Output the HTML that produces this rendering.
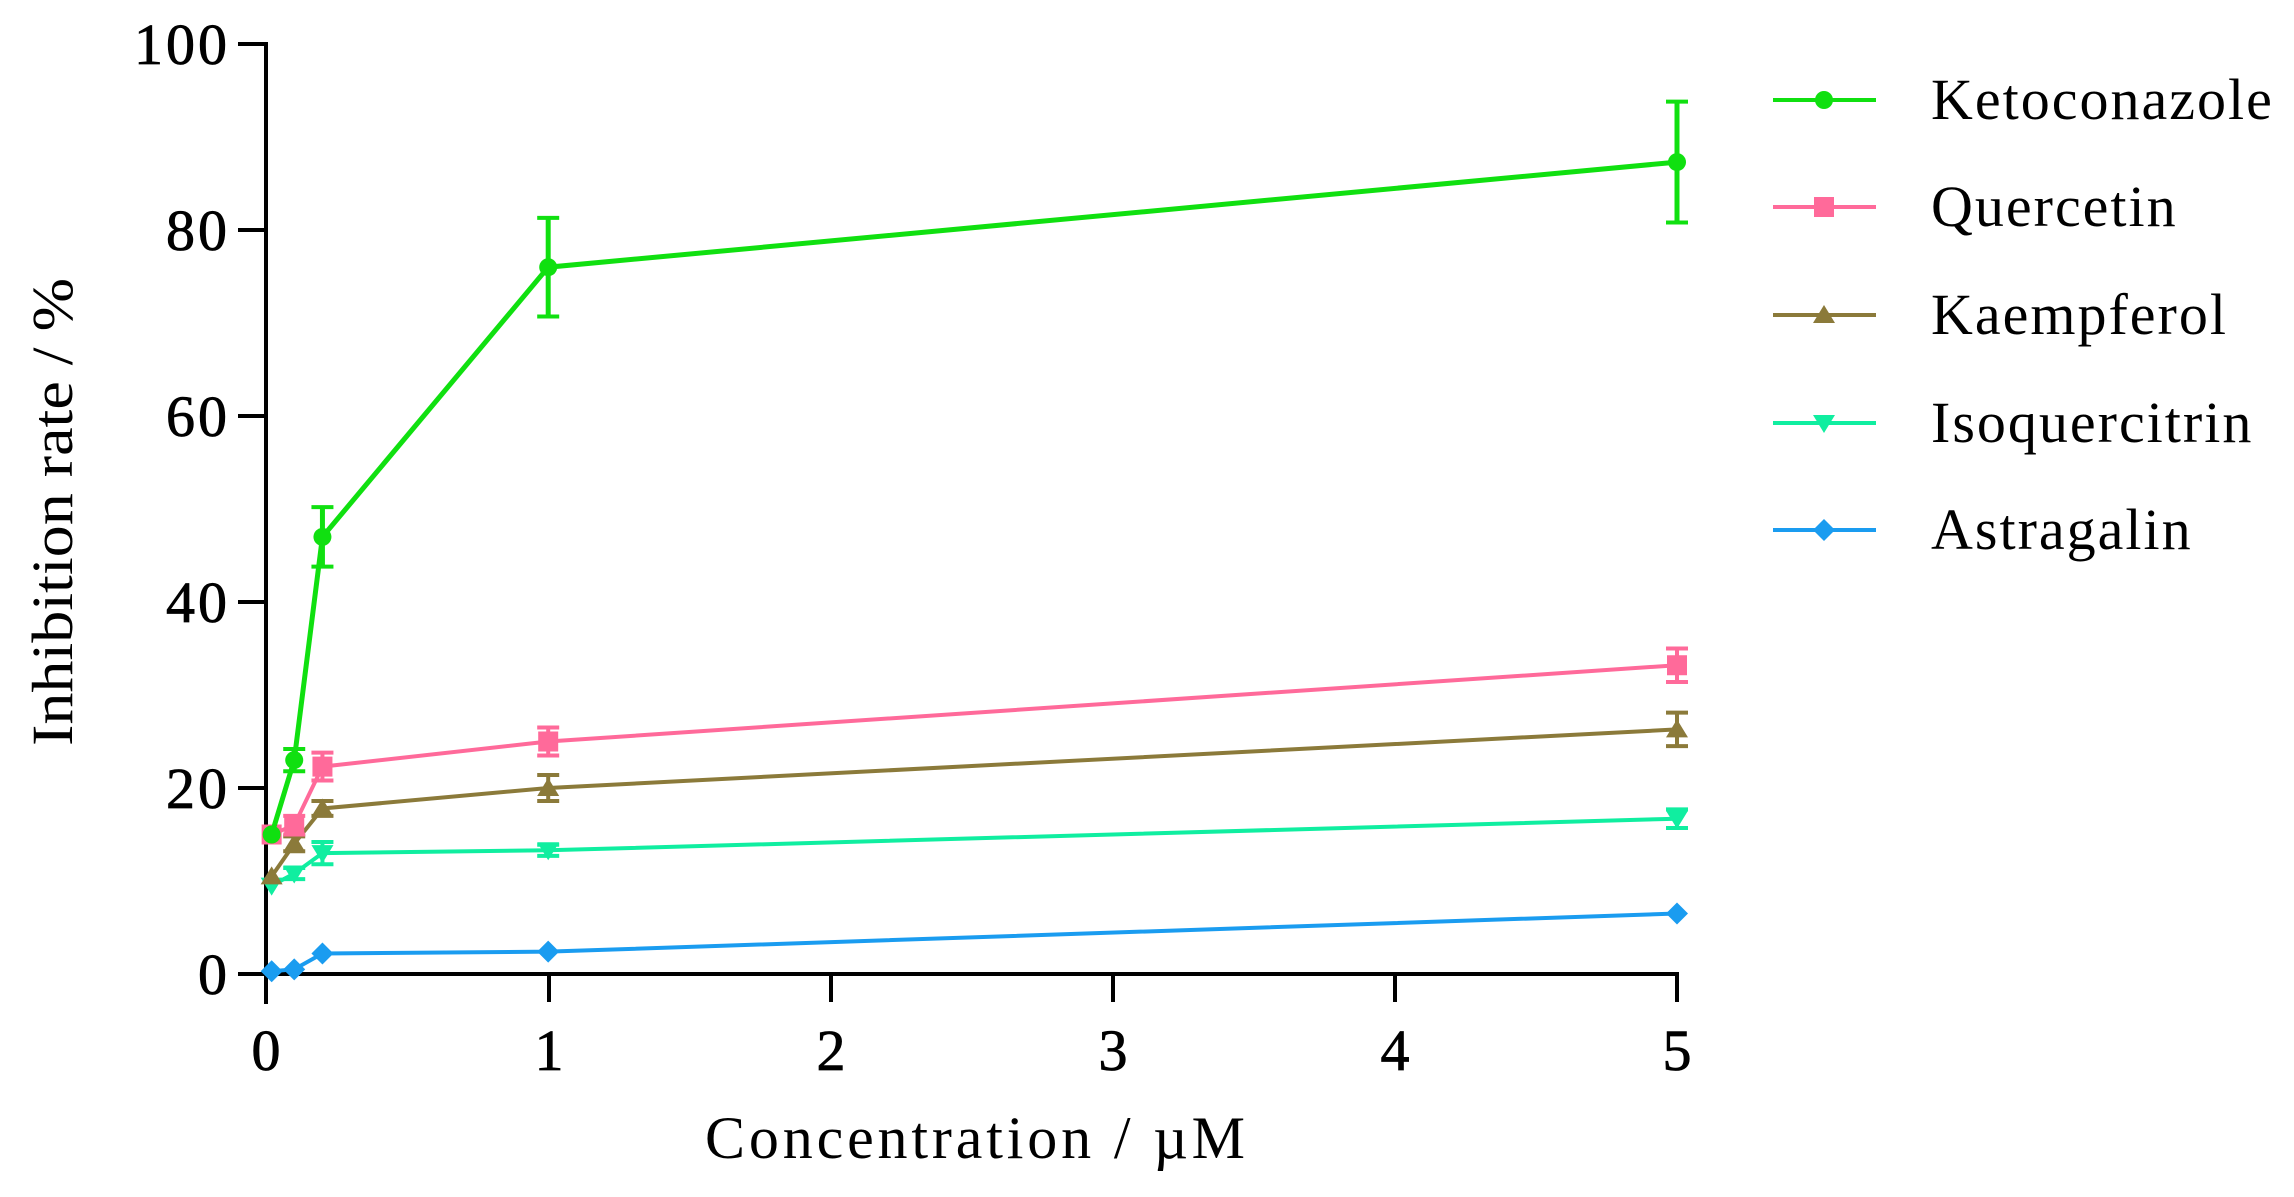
<!DOCTYPE html>
<html><head><meta charset="utf-8"><style>
html,body{margin:0;padding:0;background:#fff;}
svg{display:block;font-family:"Liberation Serif",serif;}
</style></head><body>
<svg id="s" width="2294" height="1197" xmlns="http://www.w3.org/2000/svg">
<g stroke="#000" stroke-width="4" fill="none">
<line x1="266" y1="42" x2="266" y2="1004"/>
<line x1="264" y1="974" x2="1679" y2="974"/>
<line x1="238" y1="44" x2="266" y2="44"/>
<line x1="238" y1="230" x2="266" y2="230"/>
<line x1="238" y1="416" x2="266" y2="416"/>
<line x1="238" y1="602" x2="266" y2="602"/>
<line x1="238" y1="788" x2="266" y2="788"/>
<line x1="238" y1="974" x2="266" y2="974"/>
<line x1="549" y1="974" x2="549" y2="1002"/>
<line x1="831" y1="974" x2="831" y2="1002"/>
<line x1="1113" y1="974" x2="1113" y2="1002"/>
<line x1="1395" y1="974" x2="1395" y2="1002"/>
<line x1="1677" y1="974" x2="1677" y2="1002"/>
</g>
<g font-size="58" text-anchor="end" letter-spacing="3" stroke="#000" stroke-width="0.8">
<text x="230" y="64">100</text>
<text x="230" y="250">80</text>
<text x="230" y="436">60</text>
<text x="230" y="622">40</text>
<text x="230" y="808">20</text>
<text x="230" y="994">0</text>
</g>
<g font-size="58" text-anchor="middle" stroke="#000" stroke-width="0.8">
<text x="266" y="1070">0</text>
<text x="549" y="1070">1</text>
<text x="831" y="1070">2</text>
<text x="1113" y="1070">3</text>
<text x="1395" y="1070">4</text>
<text x="1677" y="1070">5</text>
</g>
<text x="705" y="1158" font-size="60" textLength="540" lengthAdjust="spacing">Concentration /  µM</text>
<text transform="translate(72,746) rotate(-90)" font-size="58" textLength="468" lengthAdjust="spacingAndGlyphs">Inhibition rate / %</text>
<g id="series"></g>
<g id="legend" font-size="58" letter-spacing="2"></g>
</svg>
<script>
const X=v=>266+v*282.2, Y=v=>974-v*9.3;
const xs=[0.02,0.1,0.2,1,5];
const S=[
["Ketoconazole","#10e010","c",[15,23,47,76,87.3],[0,1.2,3.2,5.3,6.5],5],
["Quercetin","#ff6a9a","s",[15,16,22.3,25,33.2],[0,1,1.5,1.5,1.8],4],
["Kaempferol","#8b7a3a","t",[10.5,14,17.8,20,26.3],[0,0.8,0.8,1.4,1.8],4],
["Isoquercitrin","#10eea0","v",[9.5,10.8,13,13.3,16.7],[0,0.6,1.2,0.6,1],4],
["Astragalin","#1a9cf0","d",[0.3,0.5,2.2,2.4,6.5],[0,0,0,0,0],4]
];
const ns="http://www.w3.org/2000/svg";
const g=document.getElementById("series"),L=document.getElementById("legend");
function el(p,t,a){const e=document.createElementNS(ns,t);for(const k in a)e.setAttribute(k,a[k]);p.appendChild(e);return e;}
function mk(p,type,x,y,c){
 if(type=="c")el(p,"circle",{cx:x,cy:y,r:9,fill:c});
 else if(type=="s")el(p,"rect",{x:x-10,y:y-10,width:20,height:20,fill:c});
 else if(type=="t")el(p,"polygon",{points:`${x},${y-10} ${x-11},${y+8} ${x+11},${y+8}`,fill:c});
 else if(type=="v")el(p,"polygon",{points:`${x},${y+10} ${x-11},${y-8} ${x+11},${y-8}`,fill:c});
 else el(p,"polygon",{points:`${x},${y-11} ${x+11},${y} ${x},${y+11} ${x-11},${y}`,fill:c});
}
S.slice().reverse().forEach(s=>{
 const [n,c,t,ys,es,w]=s;
 el(g,"polyline",{points:xs.map((x,i)=>X(x)+","+Y(ys[i])).join(" "),fill:"none",stroke:c,"stroke-width":w});
 xs.forEach((x,i)=>{
  const px=X(x),py=Y(ys[i]);
  if(es[i]>0){const e=es[i];
   el(g,"line",{x1:px,y1:Y(ys[i]+e),x2:px,y2:Y(ys[i]-e),stroke:c,"stroke-width":w});
   el(g,"line",{x1:px-11,y1:Y(ys[i]+e),x2:px+11,y2:Y(ys[i]+e),stroke:c,"stroke-width":4});
   el(g,"line",{x1:px-11,y1:Y(ys[i]-e),x2:px+11,y2:Y(ys[i]-e),stroke:c,"stroke-width":4});}
  mk(g,t,px,py,c);
 });
});
const ly=[100,207,315,423,530];
S.forEach((s,i)=>{
 el(L,"line",{x1:1773,y1:ly[i],x2:1876,y2:ly[i],stroke:s[1],"stroke-width":4});
 mk(L,s[2],1824,ly[i],s[1]);
 const tx=el(L,"text",{x:1931,y:ly[i]+19});tx.textContent=s[0];
});
</script>
</body></html>
